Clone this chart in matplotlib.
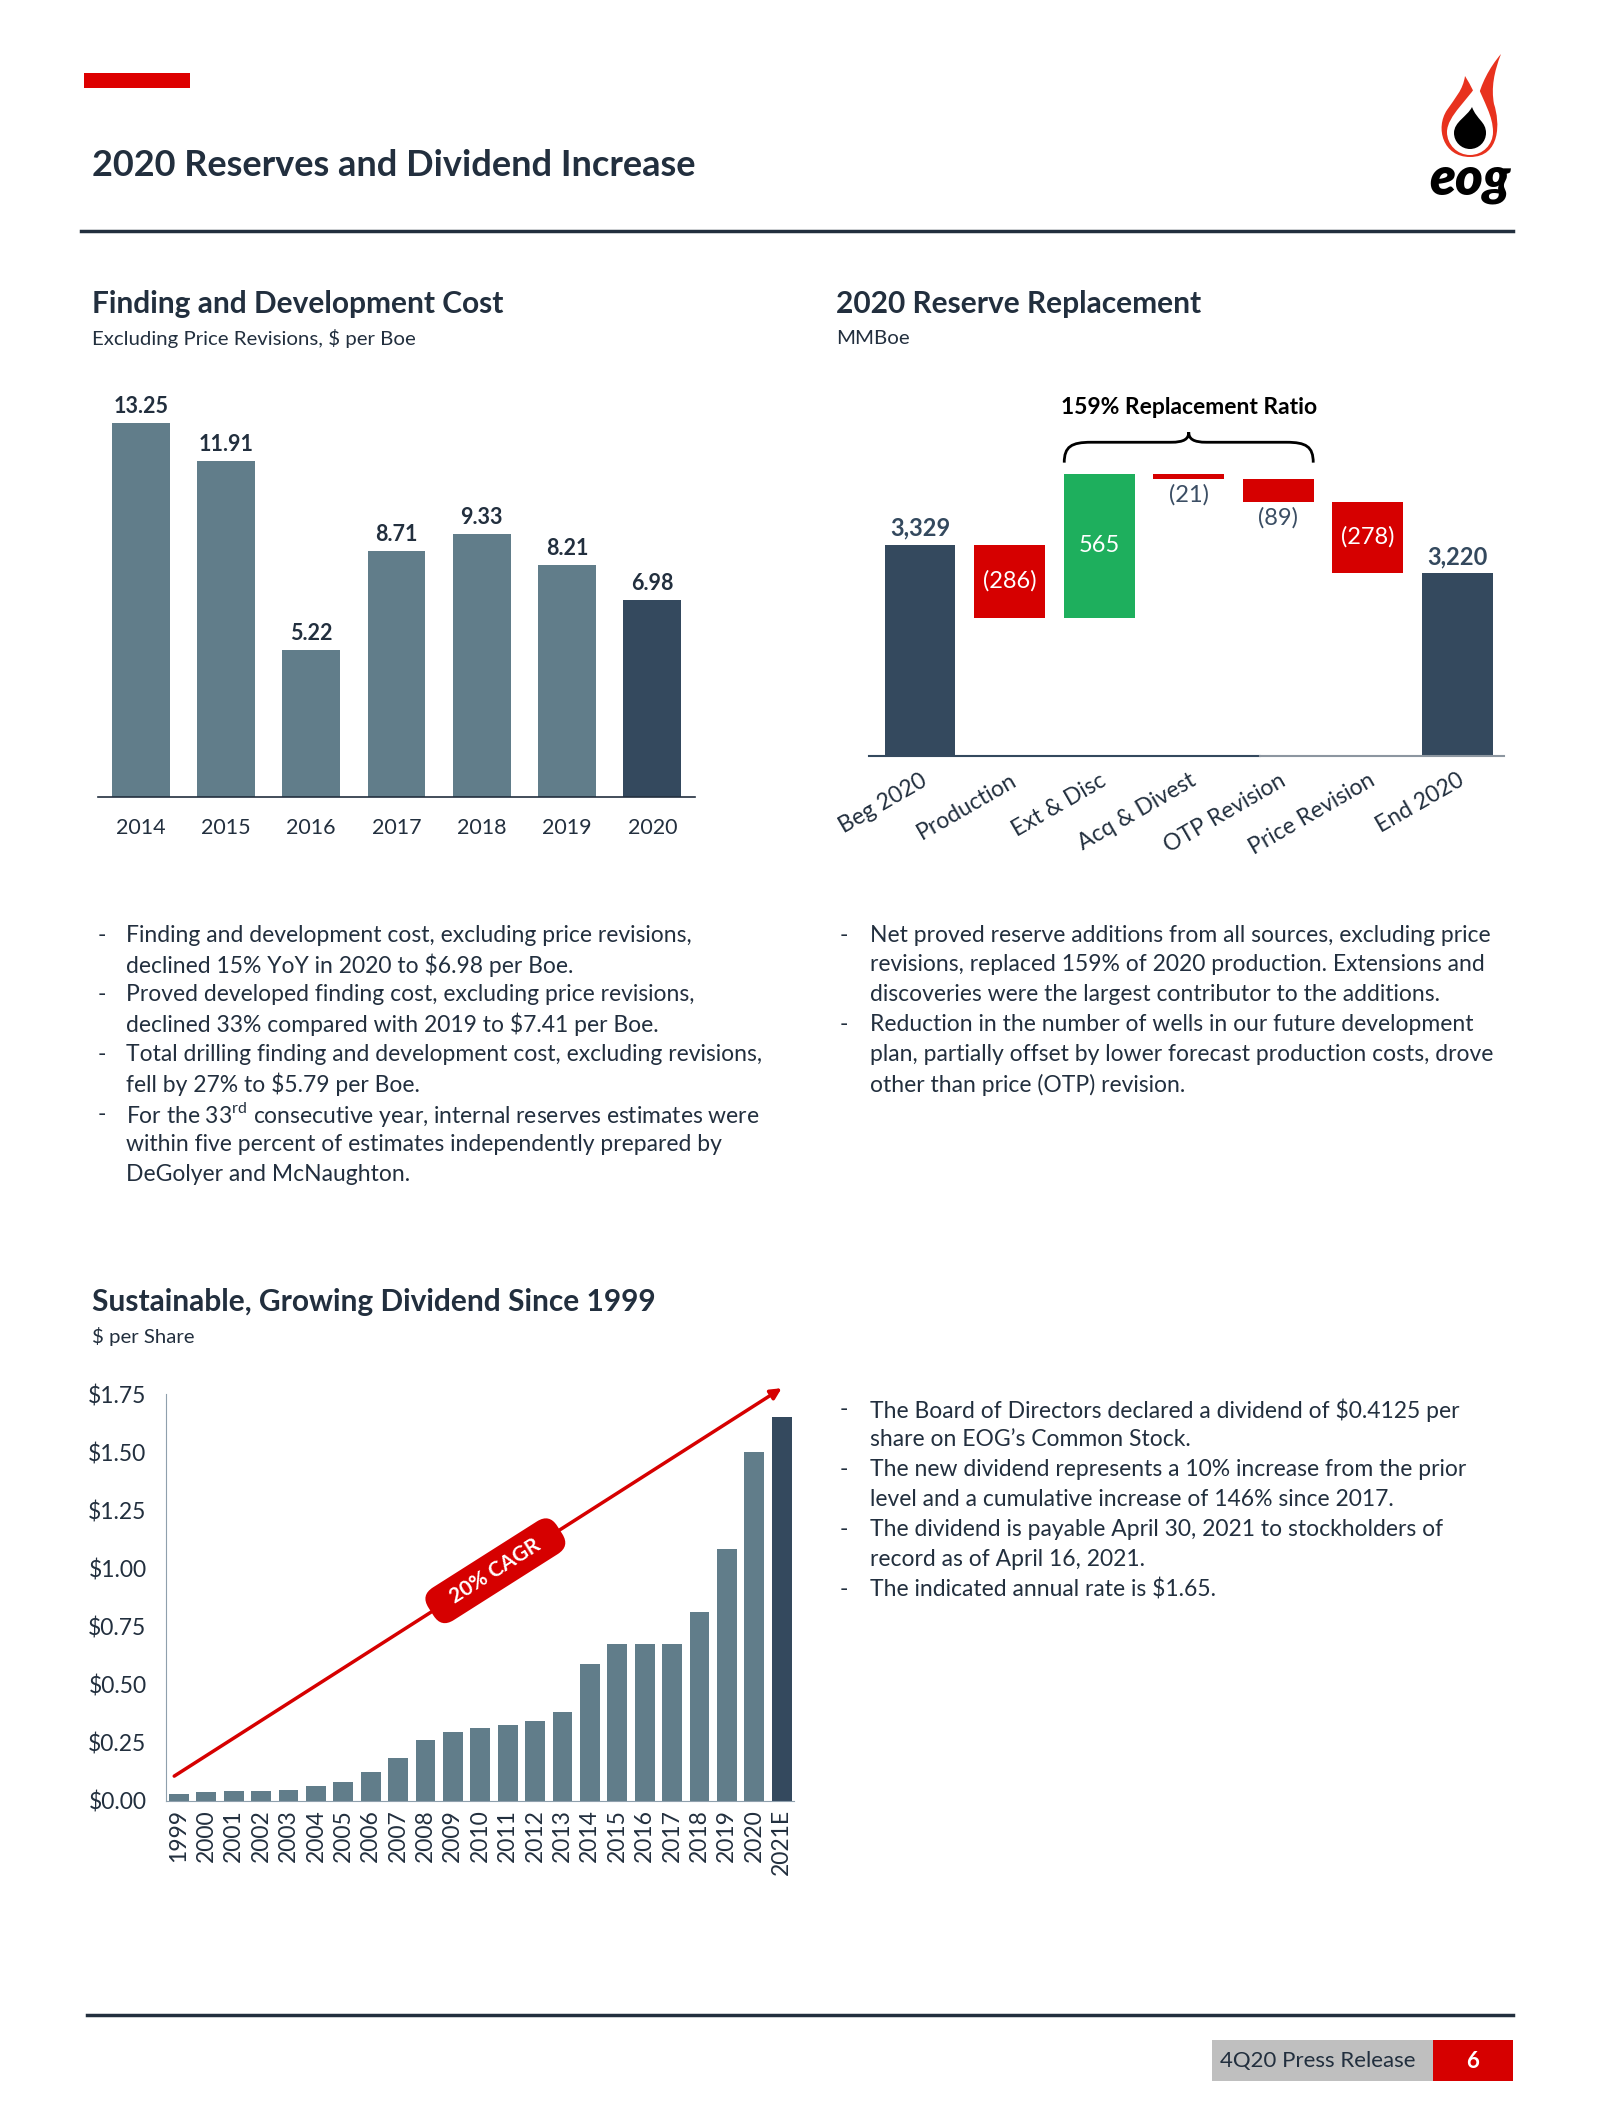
import numpy as np
import matplotlib.pyplot as plt
from matplotlib.path import Path
from matplotlib.patches import PathPatch, Rectangle

plt.rcParams['font.family'] = ['Lato', 'DejaVu Sans']
plt.rcParams['mathtext.fontset'] = 'custom'
plt.rcParams['mathtext.rm'] = 'Lato'
plt.rcParams['mathtext.bf'] = 'Lato:bold'

NAVY = '#34495e'
SLATE = '#617d8a'
RED = '#d60000'
GREEN = '#1eaf5d'
TEXT = '#222f3e'

# finding and development cost, $ per Boe
fd_years = ['2014', '2015', '2016', '2017', '2018', '2019', '2020']
fd_cost = [13.25, 11.91, 5.22, 8.71, 9.33, 8.21, 6.98]

# 2020 reserve replacement, MMBoe
wf_labels = ['Beg 2020', 'Production', 'Ext & Disc', 'Acq & Divest',
             'OTP Revision', 'Price Revision', 'End 2020']
wf_begin = 3329
wf_changes = [-286, 565, -21, -89, -278]
wf_end = 3220

# dividend, $ per share
div_years = ['1999', '2000', '2001', '2002', '2003', '2004', '2005', '2006',
             '2007', '2008', '2009', '2010', '2011', '2012', '2013', '2014',
             '2015', '2016', '2017', '2018', '2019', '2020', '2021E']
div_values = [0.03, 0.04, 0.044, 0.044, 0.049, 0.063, 0.083, 0.123,
              0.183, 0.261, 0.295, 0.316, 0.325, 0.342, 0.381, 0.587,
              0.673, 0.673, 0.673, 0.813, 1.084, 1.50, 1.65]
div_ticks = [0, 0.25, 0.5, 0.75, 1.0, 1.25, 1.5, 1.75]

W, H = 1600, 2128
fig = plt.figure(figsize=(W / 100, H / 100), dpi=100)


def px_rect(x0, x1, ytop, ybot):
    return [x0 / W, (H - ybot) / H, (x1 - x0) / W, (ybot - ytop) / H]


# page decorations in pixel coordinates (y down)
deco = fig.add_axes([0, 0, 1, 1], zorder=0)
deco.set_xlim(0, W)
deco.set_ylim(H, 0)
deco.axis('off')

deco.add_patch(Rectangle((84, 73), 106, 15, color='#dd0000', lw=0))
deco.text(92, 166, '2020 Reserves and Dividend Increase', fontsize=26,
          fontweight='bold', color=TEXT, va='center')
deco.plot([81, 1513], [231, 231], color=TEXT, lw=2.5)

# logo
flame = Path([(1470, 157), (1443, 157), (1435, 128), (1447, 110),
              (1455, 98), (1463, 90), (1465, 76),
              (1471, 86), (1475, 93), (1477, 101),
              (1481, 84), (1489, 68), (1501, 54),
              (1494, 72), (1491, 88), (1494, 104),
              (1500, 122), (1501, 157), (1470, 157), (1470, 157)],
             [Path.MOVETO] + [Path.CURVE4] * 18 + [Path.CLOSEPOLY])
deco.add_patch(PathPatch(flame, facecolor='#e8321e', lw=0))


def drop(cx, cy, r, tx, ty):
    verts = [(tx, ty), (tx + r * 0.3, ty + r * 0.8), (cx + r, cy - r * 0.7), (cx + r, cy),
             (cx + r, cy + r * 0.55), (cx + r * 0.55, cy + r), (cx, cy + r),
             (cx - r * 0.55, cy + r), (cx - r, cy + r * 0.55), (cx - r, cy),
             (cx - r, cy - r * 0.7), (tx - r * 0.3, ty + r * 0.6), (tx, ty), (tx, ty)]
    codes = [Path.MOVETO] + [Path.CURVE4] * 12 + [Path.CLOSEPOLY]
    return Path(verts, codes)


deco.add_patch(PathPatch(drop(1470, 132, 23, 1477, 84), facecolor='white', lw=0))
deco.add_patch(PathPatch(drop(1470, 133, 16, 1472, 107), facecolor='black', lw=0))
deco.text(1470, 179, 'eog', fontsize=38, fontweight='heavy', style='italic',
          color='black', ha='center', va='center')

# section titles
deco.text(92, 304, 'Finding and Development Cost', fontsize=21.5, fontweight='bold',
          color=TEXT, va='center')
deco.text(92, 339, 'Excluding Price Revisions, $ per Boe', fontsize=14.7,
          color=TEXT, va='center')
deco.text(836, 304, '2020 Reserve Replacement', fontsize=21.5, fontweight='bold',
          color=TEXT, va='center')
deco.text(836, 339, 'MMBoe', fontsize=14.7, color=TEXT, va='center')
deco.text(92, 1302, 'Sustainable, Growing Dividend Since 1999', fontsize=21.5,
          fontweight='bold', color=TEXT, va='center')
deco.text(92, 1337, '$ per Share', fontsize=14.7, color=TEXT, va='center')


def bullets(x_dash, x_text, y0, lines, step=29.9):
    for i, (dash, line) in enumerate(lines):
        y = y0 + i * step
        if dash:
            deco.text(x_dash, y, '-', fontsize=16.5, color=TEXT, va='center')
        deco.text(x_text, y, line, fontsize=16.5, color=TEXT, va='center')


left_lines = [
    (True, 'Finding and development cost, excluding price revisions,'),
    (False, 'declined 15% YoY in 2020 to $6.98 per Boe.'),
    (True, 'Proved developed finding cost, excluding price revisions,'),
    (False, 'declined 33% compared with 2019 to $7.41 per Boe.'),
    (True, 'Total drilling finding and development cost, excluding revisions,'),
    (False, 'fell by 27% to $5.79 per Boe.'),
    (True, r'For the 33$^{\mathrm{rd}}$ consecutive year, internal reserves estimates were'),
    (False, 'within five percent of estimates independently prepared by'),
    (False, 'DeGolyer and McNaughton.'),
]
right_lines = [
    (True, 'Net proved reserve additions from all sources, excluding price'),
    (False, 'revisions, replaced 159% of 2020 production. Extensions and'),
    (False, 'discoveries were the largest contributor to the additions.'),
    (True, 'Reduction in the number of wells in our future development'),
    (False, 'plan, partially offset by lower forecast production costs, drove'),
    (False, 'other than price (OTP) revision.'),
]
div_lines = [
    (True, 'The Board of Directors declared a dividend of $0.4125 per'),
    (False, 'share on EOG\u2019s Common Stock.'),
    (True, 'The new dividend represents a 10% increase from the prior'),
    (False, 'level and a cumulative increase of 146% since 2017.'),
    (True, 'The dividend is payable April 30, 2021 to stockholders of'),
    (False, 'record as of April 16, 2021.'),
    (True, 'The indicated annual rate is $1.65.'),
]
bullets(98, 126, 935, left_lines)
bullets(840, 870, 935, right_lines)
bullets(840, 870, 1410, div_lines)

# footer
deco.plot([87, 1513], [2015, 2015], color=TEXT, lw=2.5)
deco.add_patch(Rectangle((1212, 2040), 221, 41, color='#bfbfbf', lw=0))
deco.add_patch(Rectangle((1433, 2040), 80, 41, color='#d60000', lw=0))
deco.text(1220, 2061, '4Q20 Press Release', fontsize=16, color=TEXT, va='center')
deco.text(1473, 2061, '6', fontsize=16, fontweight='bold', color='white',
          ha='center', va='center')

# ---- finding and development cost chart
ax1 = fig.add_axes(px_rect(98, 695, 374, 797), zorder=1)
ax1.patch.set_alpha(0)
x1 = np.arange(len(fd_years))
colors1 = [SLATE] * (len(fd_years) - 1) + [NAVY]
ax1.bar(x1, fd_cost, width=0.68, color=colors1)
for xi, v in zip(x1, fd_cost):
    ax1.annotate(f'{v:.2f}', (xi, v), xytext=(0, 12), textcoords='offset points',
                 ha='center', va='center', fontsize=15.5, fontweight='bold', color=TEXT)
ax1.set_xlim(-0.5, 6.5)
ax1.set_ylim(0, 15)
ax1.set_xticks(x1, fd_years)
ax1.tick_params(axis='x', length=0, pad=15, labelsize=15.5, labelcolor=TEXT)
ax1.set_yticks([])
for s in ['top', 'right', 'left']:
    ax1.spines[s].set_visible(False)
ax1.spines['bottom'].set_color(TEXT)
ax1.spines['bottom'].set_linewidth(1.2)

# ---- reserve replacement waterfall
ax2 = fig.add_axes(px_rect(869, 1504, 374, 756), zorder=1)
ax2.patch.set_alpha(0)
base = 2500
levels = np.cumsum([wf_begin] + wf_changes)
x2 = np.arange(len(wf_labels))
ax2.bar(0, wf_begin - base, bottom=base, width=0.79, color=NAVY)
ax2.bar(6, wf_end - base, bottom=base, width=0.79, color=NAVY)
for i, ch in enumerate(wf_changes):
    lo = min(levels[i], levels[i + 1])
    ax2.bar(i + 1, abs(ch), bottom=lo, width=0.79, color=GREEN if ch > 0 else RED)
    txt = f'{ch}' if ch > 0 else f'({-ch})'
    if abs(ch) > 200:
        ax2.text(i + 1, lo + abs(ch) / 2, txt, ha='center', va='center',
                 fontsize=17, color='white')
    else:
        ax2.text(i + 1, lo - 62, txt, ha='center', va='center',
                 fontsize=17, color='#3b4e64')
ax2.text(0, wf_begin + 65, f'{wf_begin:,}', ha='center', va='center',
         fontsize=17, fontweight='bold', color=NAVY)
ax2.text(6, wf_end + 62, f'{wf_end:,}', ha='center', va='center',
         fontsize=17, fontweight='bold', color=NAVY)
ax2.set_xlim(-0.57, 6.52)
ax2.set_ylim(base, 4000)
ax2.set_xticks(x2, wf_labels)
ax2.tick_params(axis='x', length=0, pad=10, labelsize=16.5, labelcolor=TEXT)
for lab in ax2.get_xticklabels():
    lab.set_rotation(30)
    lab.set_ha('right')
    lab.set_rotation_mode('anchor')
ax2.set_yticks([])
for s in ax2.spines.values():
    s.set_visible(False)
ax2.plot([-0.57, 3.8], [base, base], color=NAVY, lw=1.5, clip_on=False)
ax2.plot([3.8, 6.52], [base, base], color='#8c96a0', lw=1.5, clip_on=False)

# brace over the additions
x_l, x_r, xm = 1.61, 4.39, 3.0
brace = Path([(x_l, 3652), (x_l, 3715), (x_l + 0.08, 3732), (x_l + 0.3, 3732),
              (xm - 0.2, 3732),
              (xm - 0.05, 3732), (xm, 3745), (xm, 3772),
              (xm, 3745), (xm + 0.05, 3732), (xm + 0.2, 3732),
              (x_r - 0.3, 3732),
              (x_r - 0.08, 3732), (x_r, 3715), (x_r, 3652)],
             [Path.MOVETO, Path.CURVE4, Path.CURVE4, Path.CURVE4, Path.LINETO,
              Path.CURVE4, Path.CURVE4, Path.CURVE4,
              Path.CURVE4, Path.CURVE4, Path.CURVE4, Path.LINETO,
              Path.CURVE4, Path.CURVE4, Path.CURVE4])
ax2.add_patch(PathPatch(brace, facecolor='none', edgecolor='black', lw=2, clip_on=False))
ax2.text(xm, 3870, '159% Replacement Ratio', ha='center', va='center',
         fontsize=16.5, fontweight='bold', color='black')

# ---- dividend chart
ax3 = fig.add_axes(px_rect(166, 794, 1394, 1801), zorder=1)
ax3.patch.set_alpha(0)
x3 = np.arange(len(div_years))
colors3 = [SLATE] * (len(div_years) - 1) + [NAVY]
ax3.bar(x3, div_values, width=0.72, color=colors3)
ax3.set_xlim(-0.47, 22.45)
ax3.set_ylim(0, 1.75)
ax3.set_yticks(div_ticks, [f'${t:.2f}' for t in div_ticks])
ax3.set_xticks(x3, div_years, rotation=90)
ax3.tick_params(axis='x', length=0, pad=6, labelsize=16.5, labelcolor=TEXT)
ax3.tick_params(axis='y', length=0, pad=14, labelsize=16.5, labelcolor=TEXT)
for s in ['top', 'right']:
    ax3.spines[s].set_visible(False)
ax3.spines['left'].set_color('#8fa0ad')
ax3.spines['bottom'].set_color('#8fa0ad')

ax3.annotate('', xy=(22.0, 1.775), xytext=(-0.17, 0.107),
             arrowprops=dict(arrowstyle='-|>', color='#d60000', lw=2.5,
                             mutation_scale=16, shrinkA=0, shrinkB=0),
             annotation_clip=False)
ang = np.degrees(np.arctan2(285, 449))
ax3.text(11.55, 0.99, '   20% CAGR   ', rotation=ang, rotation_mode='anchor',
         ha='center', va='center', fontsize=15, fontweight='bold', color='white',
         bbox=dict(boxstyle='round,pad=0.45,rounding_size=0.7', fc='#d60000', ec='none'))

fig.savefig('out.png', dpi=100, facecolor='white')
